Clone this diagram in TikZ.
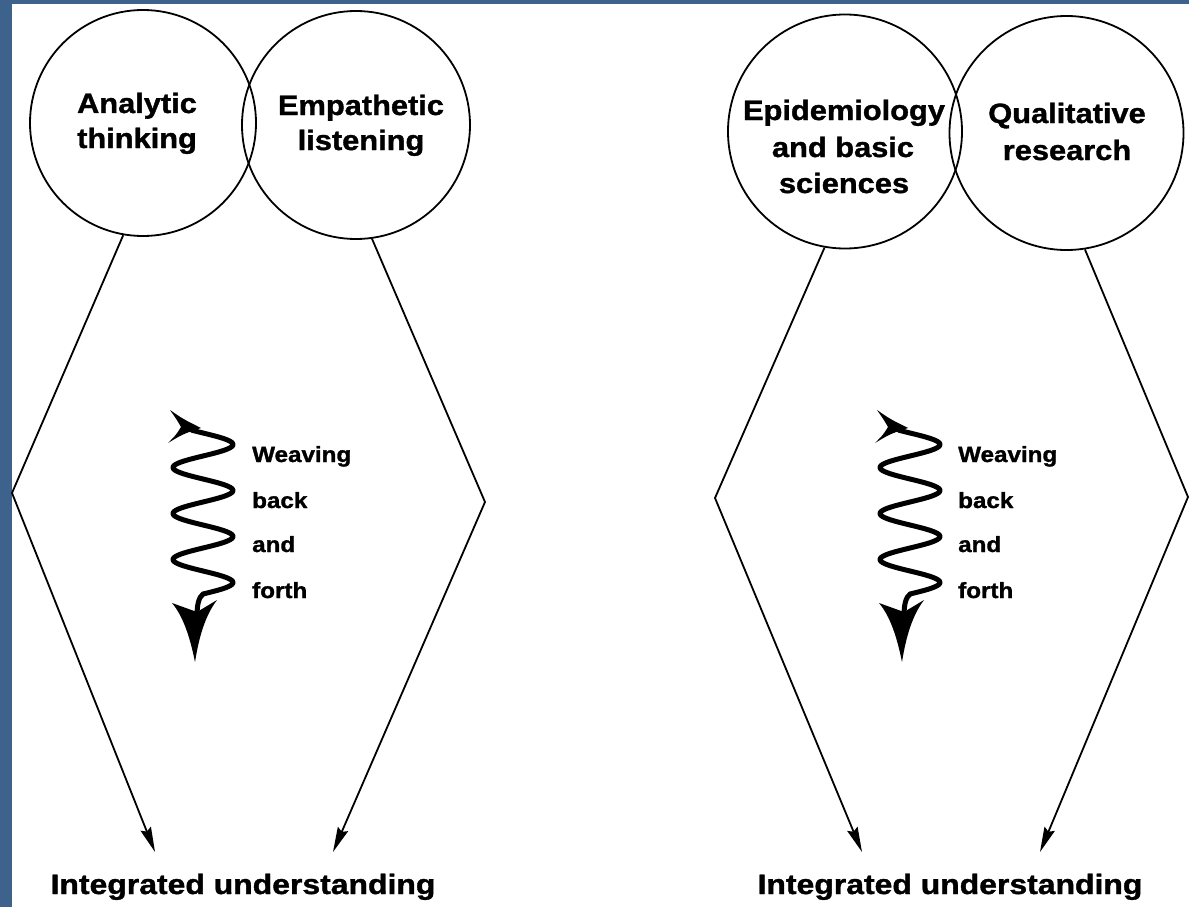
\documentclass[tikz,border=0pt]{standalone}
\usepackage{fontspec}
\setmainfont{Liberation Sans}[BoldFeatures={FakeBold=1.2}]
\usetikzlibrary{arrows.meta}
\definecolor{frameblue}{RGB}{61,99,140}
\newcommand\wtext[1]{\scalebox{1.1}[1]{#1}}
\newcommand\wwtext[1]{\scalebox{1.14}[1]{#1}}
\begin{document}
\begin{tikzpicture}[x=1pt,y=-1pt,
  ring/.style={circle,draw,line width=1.8pt,minimum size=#1,inner sep=0pt},
  big/.style={font=\bfseries\fontsize{28}{28}\selectfont,inner sep=0pt,anchor=base},
  small/.style={font=\bfseries\fontsize{22}{22}\selectfont,inner sep=0pt,anchor=base west},
  conn/.style={line width=1.8pt,line join=miter,-{Stealth[length=25pt,width=11pt,inset=3pt]}},
  squig/.style={line width=5pt,line cap=round,line join=round},
]
\useasboundingbox (0,0) rectangle (1189,907);
\fill[white] (0,0) rectangle (1189,907);
\fill[frameblue] (0,0) rectangle (1189,4);
\fill[frameblue] (0,0) rectangle (12,907);

% ---------- left figure ----------
\node[ring=226pt] (cA) at (143,123) {};
\node[ring=228pt] (cB) at (356,125) {};
\node[big] (tA1) at (137,113) {\wtext{Analytic}};
\node[big] (tA2) at (137,148) {\wtext{thinking}};
\node[big] (tB1) at (361,115) {\wtext{Empathetic}};
\node[big] (tB2) at (361,150) {\wtext{listening}};
\coordinate (vL1) at (12,493);
\coordinate (vR1) at (485,502);
\coordinate (tipA) at (155,852);
\coordinate (tipB) at (333,852);
\draw[conn] (cA.260.7) -- (vL1) -- (tipA);
\draw[conn] (cB.278.6) -- (vR1) -- (tipB);
\node[big] (iu1) at (243,894) {\wwtext{Integrated understanding}};
\node[small] (w1a) at (252,462) {\wtext{Weaving}};
\node[small] (w1b) at (252,508) {\wtext{back}};
\node[small] (w1c) at (252,552) {\wtext{and}};
\node[small] (w1d) at (252,598) {\wtext{forth}};

% ---------- right figure ----------
\node[ring=234pt] (cC) at (845,131.5) {};
\node[ring=234pt] (cD) at (1066.5,133) {};
\node[big] (tC1) at (844,120) {\wtext{Epidemiology}};
\node[big] (tC2) at (843,157) {\wtext{and basic}};
\node[big] (tC3) at (844,193) {\wtext{sciences}};
\node[big] (tD1) at (1067,123) {\wtext{Qualitative}};
\node[big] (tD2) at (1067,160) {\wtext{research}};
\coordinate (vL2) at (715,498);
\coordinate (vR2) at (1188,497);
\coordinate (tipC) at (862,852);
\coordinate (tipD) at (1040,852);
\draw[conn] (cC.260.3) -- (vL2) -- (tipC);
\draw[conn] (cD.279.2) -- (vR2) -- (tipD);
\node[big] (iu2) at (950,894) {\wwtext{Integrated understanding}};
\node[small] (w2a) at (958,462) {\wtext{Weaving}};
\node[small] (w2b) at (958,508) {\wtext{back}};
\node[small] (w2c) at (958,552) {\wtext{and}};
\node[small] (w2d) at (958,598) {\wtext{forth}};

% ---------- weaving squiggles ----------
\foreach \dx in {0,707} {
  \begin{scope}[xshift=\dx pt]
    \fill (170,410) .. controls (183,419) .. (201,428) .. controls (183,434) .. (168,443)
      .. controls (176,435) .. (181,427) .. controls (177,420) .. cycle;
    \draw[squig] plot[domain=-0.06:3.5,samples=140,smooth] ({203+30*sin(\x*360)},{433+\x*46})
      .. controls (199,597) and (197,604) .. (197,616);
    \fill (197,612) -- (172,603) .. controls (183,616) and (190,637) .. (195,662)
      .. controls (199,637) and (205,616) .. (217,600) -- cycle;
  \end{scope}
}
\end{tikzpicture}
\end{document}
